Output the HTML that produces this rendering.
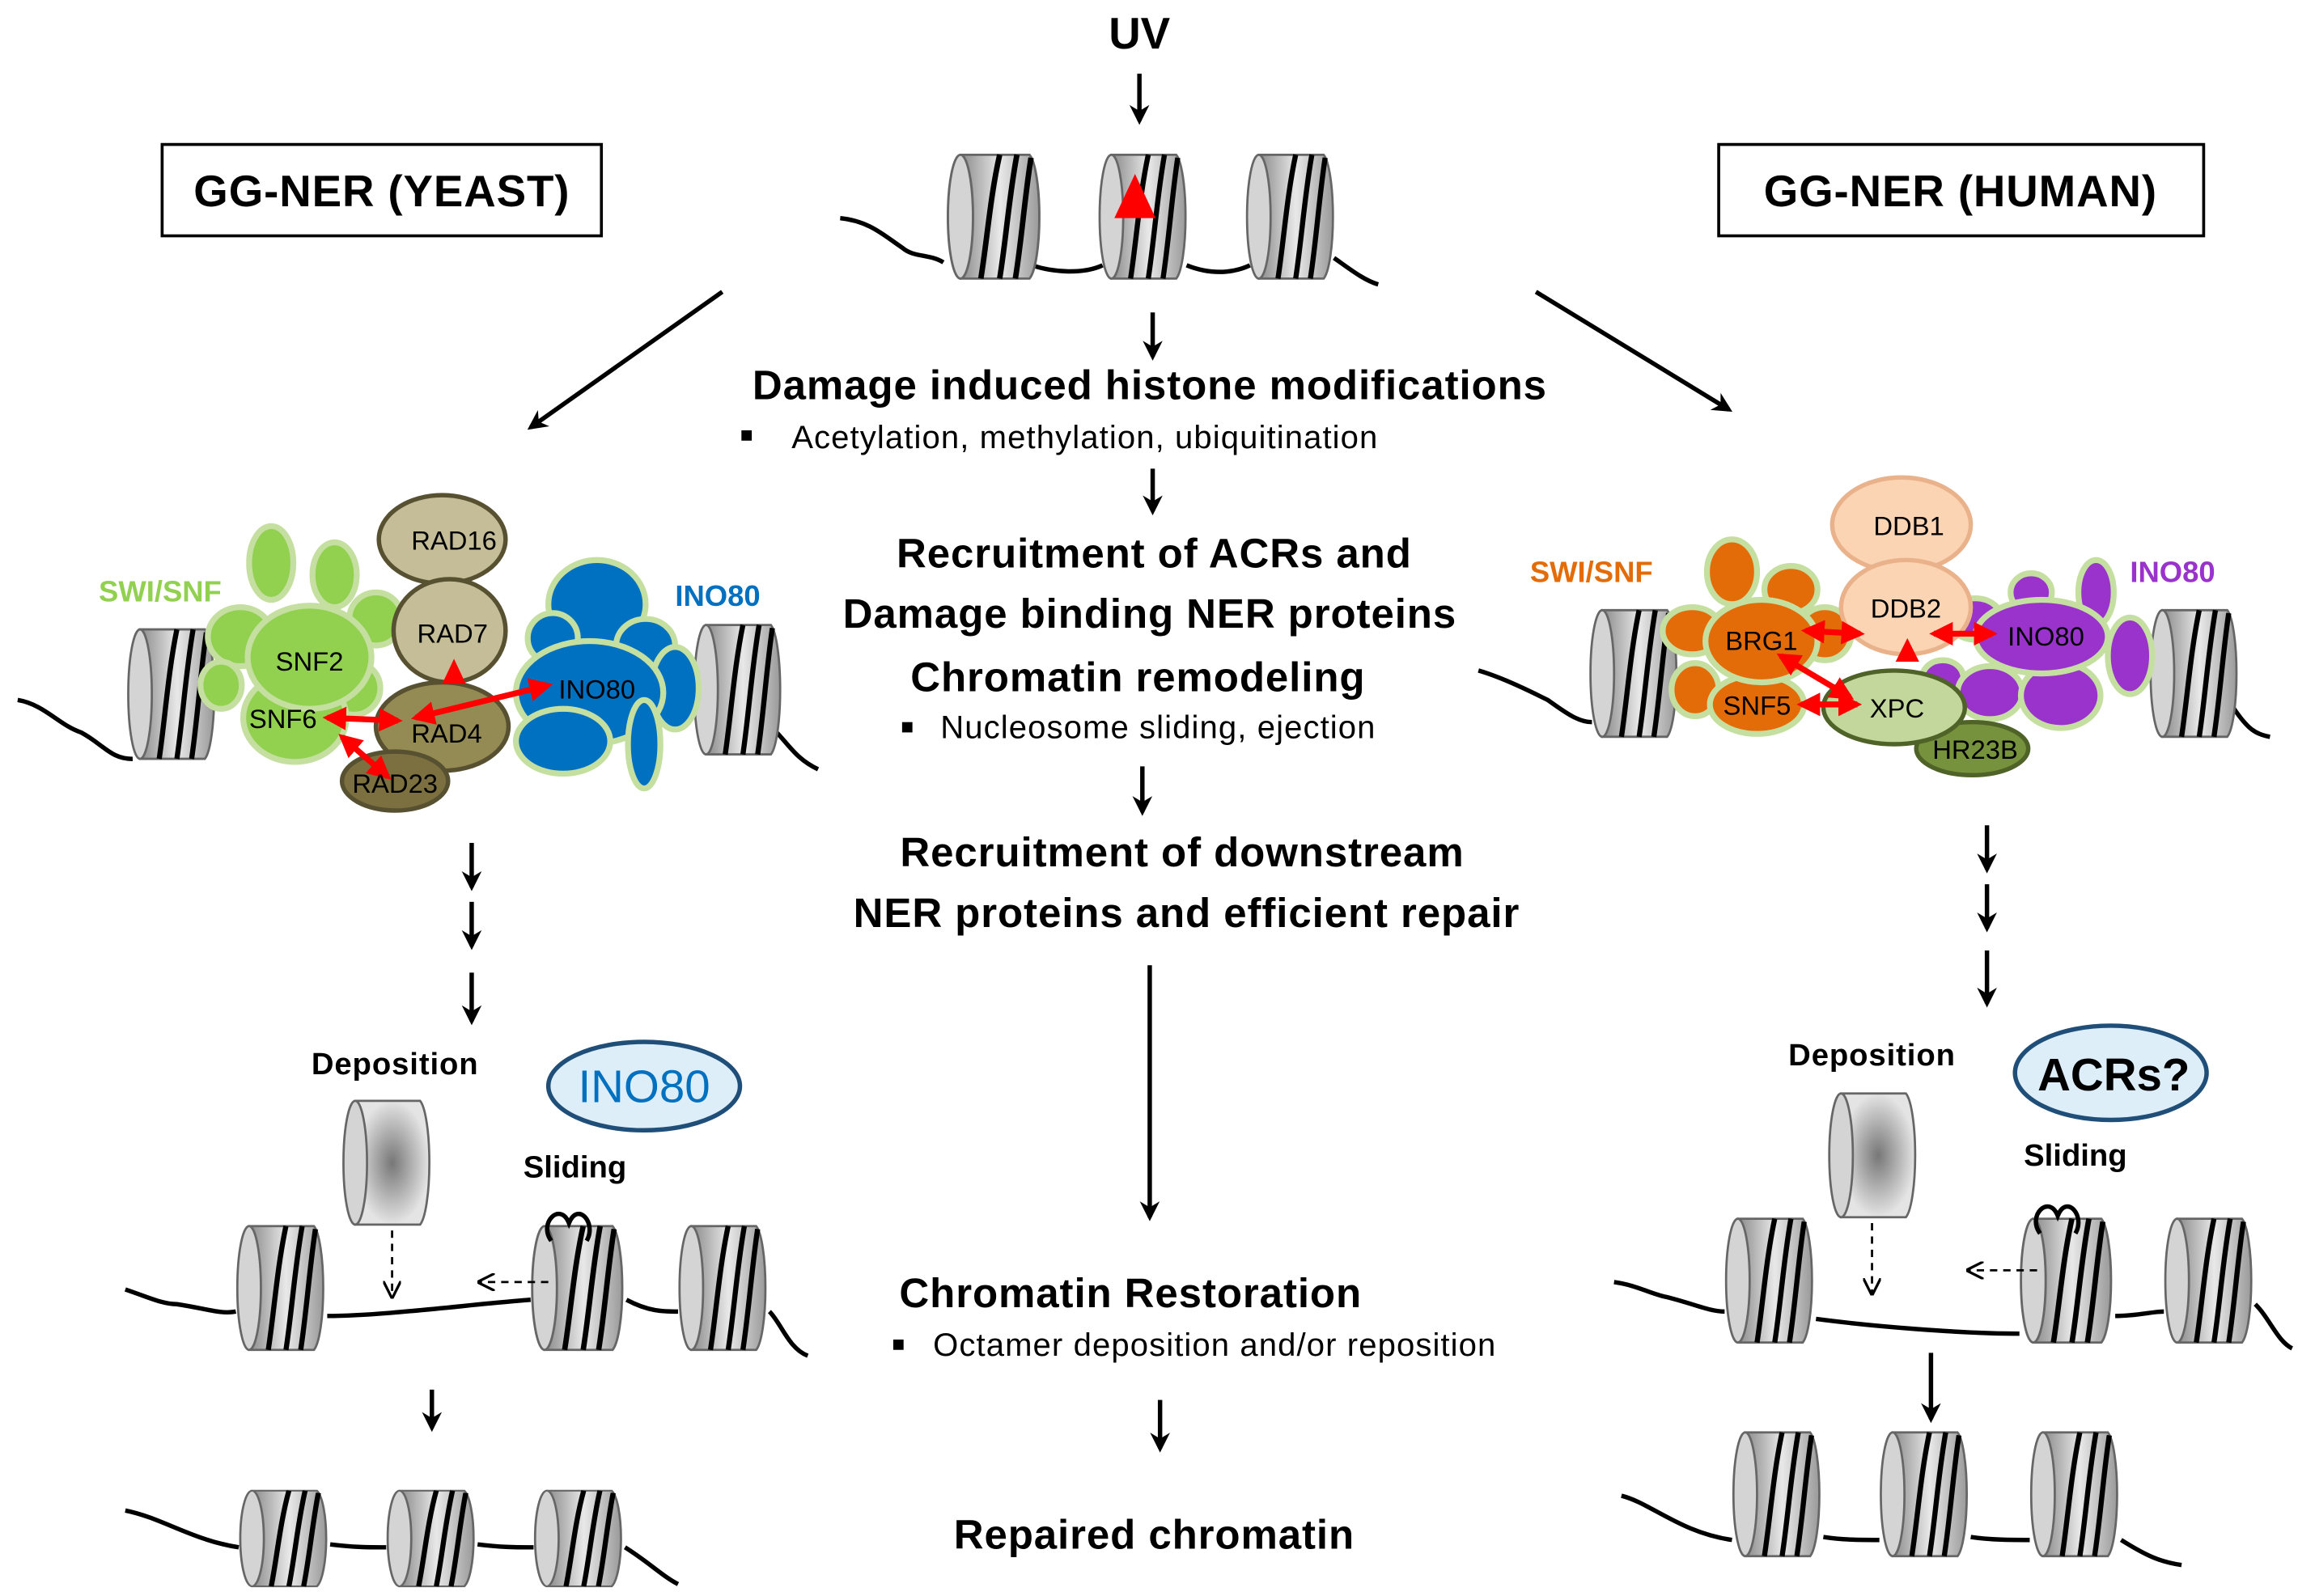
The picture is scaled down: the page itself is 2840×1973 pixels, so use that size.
<!DOCTYPE html>
<html><head><meta charset="utf-8"><style>
html,body{margin:0;padding:0;background:#fff;}
svg{display:block;}
text{font-family:"Liberation Sans",sans-serif;font-weight:bold;}
</style></head><body>
<svg width="2840" height="1973" viewBox="0 0 1559 1083" xmlns="http://www.w3.org/2000/svg">
<defs>
<linearGradient id="g" x1="0" x2="1" y1="0" y2="0">
<stop offset="0" stop-color="#8a8a8a"/><stop offset="0.5" stop-color="#e8e8e8"/><stop offset="1" stop-color="#9a9a9a"/></linearGradient>
<radialGradient id="rg"><stop offset="0" stop-color="#777"/><stop offset="1" stop-color="#e4e4e4"/></radialGradient>
<marker id="ah" viewBox="0 0 10 10" refX="8" refY="5" markerWidth="4.5" markerHeight="4.5" orient="auto"><path d="M0,0 L10,5 L0,10 L3,5 z" fill="#000"/></marker>
<marker id="ra" viewBox="0 0 10 10" refX="8" refY="5" markerWidth="4" markerHeight="4" orient="auto-start-reverse"><path d="M0,0 L10,5 L0,10 z" fill="#f00"/></marker>
<marker id="da" viewBox="0 0 10 10" refX="9" refY="5" markerWidth="8" markerHeight="8" orient="auto"><path d="M0,0 L10,5 L0,10" fill="none" stroke="#000" stroke-width="1.5"/></marker>
<symbol id="n" viewBox="0 0 62 88" preserveAspectRatio="none">
<path d="M9,2 H53 A8,43 0 0 1 53,86 H9 Z" fill="url(#g)" stroke="#666" stroke-width="1.5"/>
<ellipse cx="9" cy="44" rx="8" ry="42" fill="#d4d4d4" stroke="#666" stroke-width="1.5"/>
<path d="M22,86 C26,60 28,30 34,2 M34,86 C38,60 40,30 45,2 M44,86 C48,60 50,30 54,4" stroke="#000" stroke-width="3.5" fill="none"/>
</symbol>
<symbol id="s" viewBox="0 0 62 88" preserveAspectRatio="none">
<path d="M9,2 H53 A8,43 0 0 1 53,86 H9 Z" fill="url(#rg)" stroke="#666" stroke-width="1.5"/>
<ellipse cx="9" cy="44" rx="8" ry="42" fill="#d4d4d4" stroke="#666" stroke-width="1.5"/>
</symbol>
</defs>
<g stroke="#000" stroke-width="3" fill="none">
<path d="M570,148 C590,150 600,160 612,168 C620,175 630,172 640,178"/>
<path d="M700,180 C715,185 735,186 748,180"/>
<path d="M805,180 C820,186 835,186 848,180"/>
<path d="M905,175 C915,182 925,190 935,193"/>
</g>
<use href="#n" x="642" y="103" width="66" height="88"/>
<use href="#n" x="745" y="103" width="62" height="88"/>
<use href="#n" x="845" y="103" width="62" height="88"/>
<path d="M770,118 L784,148 L756,148 Z" fill="#f00"/>
<text x="773" y="33" font-size="30" text-anchor="middle">UV</text>
<g stroke="#000" stroke-width="3" marker-end="url(#ah)">
<line x1="773" y1="50" x2="773" y2="82"/>
<line x1="782" y1="212" x2="782" y2="242"/>
<line x1="490" y1="198" x2="360" y2="290"/>
<line x1="1042" y1="198" x2="1173" y2="278"/>
<line x1="782" y1="318" x2="782" y2="347"/>
<line x1="775" y1="520" x2="775" y2="551"/>
<line x1="780" y1="655" x2="780" y2="826"/>
<line x1="787" y1="950" x2="787" y2="983"/>
<line x1="320" y1="572" x2="320" y2="602"/>
<line x1="320" y1="612" x2="320" y2="642"/>
<line x1="320" y1="660" x2="320" y2="693"/>
<line x1="293" y1="943" x2="293" y2="969"/>
<line x1="1348" y1="560" x2="1348" y2="590"/>
<line x1="1348" y1="600" x2="1348" y2="630"/>
<line x1="1348" y1="645" x2="1348" y2="681"/>
<line x1="1310" y1="918" x2="1310" y2="963"/>
</g>
<rect x="110" y="98" width="298" height="62" fill="#fff" stroke="#000" stroke-width="2"/>
<text x="259" y="140" font-size="30" letter-spacing="0.5" text-anchor="middle">GG-NER (YEAST)</text>
<rect x="1166" y="98" width="329" height="62" fill="#fff" stroke="#000" stroke-width="2"/>
<text x="1330" y="140" font-size="30" letter-spacing="0.5" text-anchor="middle">GG-NER (HUMAN)</text>
<g text-anchor="middle" font-size="28" letter-spacing="0.5">
<text x="780" y="271">Damage induced histone modifications</text>
<text x="783" y="385">Recruitment of ACRs and</text>
<text x="780" y="426">Damage binding NER proteins</text>
<text x="772" y="469">Chromatin remodeling</text>
<text x="802" y="588">Recruitment of downstream</text>
<text x="805" y="629">NER proteins and efficient repair</text>
<text x="767" y="887">Chromatin Restoration</text>
<text x="783" y="1051">Repaired chromatin</text>
</g>
<g font-size="22" letter-spacing="0.6">
<rect x="503" y="292" width="7" height="7"/><text x="537" y="304" style="font-weight:normal">Acetylation, methylation, ubiquitination</text>
<rect x="612" y="490" width="7" height="7"/><text x="638" y="501" style="font-weight:normal">Nucleosome sliding, ejection</text>
<rect x="606" y="909" width="7" height="7"/><text x="633" y="920" style="font-weight:normal">Octamer deposition and/or reposition</text>
</g>
<!-- left complex -->
<path d="M12,475 C30,478 40,492 55,497 C70,505 75,515 90,515" stroke="#000" stroke-width="3" fill="none"/>
<path d="M525,495 C535,505 540,515 555,522" stroke="#000" stroke-width="3" fill="none"/>
<use href="#n" x="86" y="425" width="62" height="92"/>
<use href="#n" x="470" y="422" width="62" height="92"/>
<g fill="#92d050" stroke="#c4dfa0" stroke-width="4">
<ellipse cx="184" cy="382" rx="15" ry="25"/>
<ellipse cx="227" cy="390" rx="15" ry="22"/>
<ellipse cx="255" cy="420" rx="18" ry="18"/>
<ellipse cx="163" cy="432" rx="22" ry="20"/>
<ellipse cx="150" cy="465" rx="14" ry="16"/>
<ellipse cx="240" cy="467" rx="18" ry="18"/>
<ellipse cx="200" cy="487" rx="35" ry="30"/>
<ellipse cx="210" cy="446" rx="42" ry="35"/>
</g>
<g fill="#0070c0" stroke="#c4dfa0" stroke-width="4">
<ellipse cx="405" cy="410" rx="33" ry="30"/>
<ellipse cx="375" cy="433" rx="17" ry="17"/>
<ellipse cx="438" cy="438" rx="20" ry="18"/>
<ellipse cx="458" cy="467" rx="16" ry="28"/>
<ellipse cx="400" cy="470" rx="50" ry="35"/>
<ellipse cx="382" cy="503" rx="32" ry="22"/>
<ellipse cx="437" cy="505" rx="11" ry="30"/>
</g>
<g stroke="#575031" stroke-width="3">
<ellipse cx="300" cy="366" rx="43" ry="30" fill="#c4bd97"/>
<ellipse cx="305" cy="428" rx="38" ry="35" fill="#c4bd97"/>
<ellipse cx="300" cy="493" rx="45" ry="30" fill="#948a54"/>
<ellipse cx="268" cy="530" rx="36" ry="20" fill="#7c7040"/>
</g>
<path d="M308,447 L316,464 L300,464 Z" fill="#f00"/>
<g stroke="#f00" stroke-width="4" marker-start="url(#ra)" marker-end="url(#ra)">
<line x1="222" y1="487" x2="270" y2="489"/>
<line x1="282" y1="487" x2="372" y2="465"/>
<line x1="232" y1="500" x2="263" y2="527"/>
</g>
<g font-size="18" text-anchor="middle">
<text x="308" y="373" style="font-weight:normal">RAD16</text>
<text x="307" y="436" style="font-weight:normal">RAD7</text>
<text x="210" y="455" style="font-weight:normal">SNF2</text>
<text x="192" y="494" style="font-weight:normal">SNF6</text>
<text x="303" y="504" style="font-weight:normal">RAD4</text>
<text x="268" y="538" style="font-weight:normal">RAD23</text>
<text x="405" y="474" style="font-weight:normal">INO80</text>
</g>
<text x="67" y="408" font-size="20" fill="#92d050">SWI/SNF</text>
<text x="458" y="411" font-size="20" fill="#0070c0">INO80</text>
<!-- left bottom -->
<text x="268" y="729" font-size="21" letter-spacing="0.5" text-anchor="middle">Deposition</text>
<ellipse cx="437" cy="737" rx="65" ry="30" fill="#ddeef8" stroke="#1f4e79" stroke-width="3"/>
<text x="437" y="748" font-size="31" fill="#0070c0" text-anchor="middle" style="font-weight:normal">INO80</text>
<text x="390" y="799" font-size="21" text-anchor="middle">Sliding</text>
<use href="#s" x="232" y="745" width="62" height="88"/>
<path d="M85,875 C100,880 110,885 120,885 C140,888 150,892 160,890 M222,893 C260,893 320,885 360,882 M425,882 C440,890 450,890 460,890 M522,890 C530,898 535,915 548,920" stroke="#000" stroke-width="3" fill="none"/>
<use href="#n" x="160" y="830" width="62" height="88"/>
<use href="#n" x="360" y="830" width="65" height="88"/>
<use href="#n" x="460" y="830" width="62" height="88"/>
<path d="M374,842 C365,830 380,815 386,830 C392,815 405,830 398,842" stroke="#000" stroke-width="3" fill="none"/>
<line x1="266" y1="835" x2="266" y2="880" stroke="#000" stroke-width="1.5" stroke-dasharray="5,4" marker-end="url(#da)"/>
<line x1="372" y1="870" x2="325" y2="870" stroke="#000" stroke-width="1.5" stroke-dasharray="5,4" marker-end="url(#da)"/>
<path d="M85,1025 C110,1030 130,1045 162,1050 M224,1048 C240,1050 250,1050 262,1050 M324,1048 C340,1050 350,1050 362,1050 M424,1050 C440,1060 450,1070 460,1075" stroke="#000" stroke-width="3" fill="none"/>
<use href="#n" x="162" y="1010" width="62" height="68"/>
<use href="#n" x="262" y="1010" width="62" height="68"/>
<use href="#n" x="362" y="1010" width="62" height="68"/>
<!-- right complex -->
<path d="M1003,455 C1020,460 1040,470 1050,475 C1060,482 1070,490 1080,490" stroke="#000" stroke-width="3" fill="none"/>
<path d="M1515,480 C1525,495 1530,498 1540,500" stroke="#000" stroke-width="3" fill="none"/>
<use href="#n" x="1078" y="412" width="62" height="90"/>
<use href="#n" x="1458" y="412" width="62" height="90"/>
<g fill="#e36c09" stroke="#c4dfa0" stroke-width="4">
<ellipse cx="1175" cy="388" rx="17" ry="22"/>
<ellipse cx="1215" cy="400" rx="18" ry="16"/>
<ellipse cx="1148" cy="428" rx="20" ry="16"/>
<ellipse cx="1238" cy="430" rx="18" ry="18"/>
<ellipse cx="1150" cy="468" rx="16" ry="18"/>
<ellipse cx="1192" cy="478" rx="32" ry="20"/>
<ellipse cx="1195" cy="435" rx="38" ry="28"/>
</g>
<g fill="#9933cc" stroke="#c4dfa0" stroke-width="4">
<ellipse cx="1378" cy="402" rx="14" ry="13"/>
<ellipse cx="1422" cy="402" rx="12" ry="22"/>
<ellipse cx="1445" cy="445" rx="15" ry="26"/>
<ellipse cx="1340" cy="420" rx="18" ry="14"/>
<ellipse cx="1318" cy="460" rx="14" ry="12"/>
<ellipse cx="1350" cy="470" rx="22" ry="18"/>
<ellipse cx="1398" cy="472" rx="27" ry="22"/>
<ellipse cx="1385" cy="432" rx="45" ry="25"/>
</g>
<g stroke="#e9b28a" stroke-width="3" fill="#fbd4b4">
<ellipse cx="1290" cy="356" rx="47" ry="32"/>
<ellipse cx="1293" cy="412" rx="44" ry="32"/>
</g>
<ellipse cx="1338" cy="508" rx="38" ry="18" fill="#76923c" stroke="#4f6228" stroke-width="3"/>
<ellipse cx="1285" cy="480" rx="48" ry="25" fill="#c3d69b" stroke="#4f6228" stroke-width="3"/>
<path d="M1294,433 L1302,449 L1286,449 Z" fill="#f00"/>
<g stroke="#f00" stroke-width="4" marker-start="url(#ra)" marker-end="url(#ra)">
<line x1="1225" y1="428" x2="1262" y2="430"/>
<line x1="1312" y1="430" x2="1352" y2="430"/>
<line x1="1208" y1="445" x2="1255" y2="473"/>
<line x1="1222" y1="478" x2="1260" y2="478"/>
</g>
<g font-size="18" text-anchor="middle">
<text x="1295" y="363" style="font-weight:normal">DDB1</text>
<text x="1293" y="419" style="font-weight:normal">DDB2</text>
<text x="1195" y="441" style="font-weight:normal">BRG1</text>
<text x="1192" y="485" style="font-weight:normal">SNF5</text>
<text x="1287" y="487" style="font-weight:normal">XPC</text>
<text x="1340" y="515" style="font-weight:normal">HR23B</text>
<text x="1388" y="438" style="font-weight:normal">INO80</text>
</g>
<text x="1038" y="395" font-size="20" fill="#e36c09">SWI/SNF</text>
<text x="1445" y="395" font-size="20" fill="#9933cc">INO80</text>
<!-- right bottom -->
<text x="1270" y="723" font-size="21" letter-spacing="0.5" text-anchor="middle">Deposition</text>
<ellipse cx="1432" cy="728" rx="65" ry="32" fill="#ddeef8" stroke="#1f4e79" stroke-width="3"/>
<text x="1434" y="740" font-size="31" text-anchor="middle">ACRs?</text>
<text x="1408" y="791" font-size="21" text-anchor="middle">Sliding</text>
<use href="#s" x="1240" y="740" width="62" height="88"/>
<path d="M1095,870 C1110,872 1120,878 1130,880 C1150,885 1160,890 1170,890 M1232,895 C1270,900 1330,905 1370,905 M1435,893 C1450,893 1460,890 1468,890 M1530,885 C1540,895 1545,910 1555,915" stroke="#000" stroke-width="3" fill="none"/>
<use href="#n" x="1170" y="825" width="62" height="88"/>
<use href="#n" x="1370" y="825" width="65" height="88"/>
<use href="#n" x="1468" y="825" width="62" height="88"/>
<path d="M1384,837 C1375,825 1390,810 1396,825 C1402,810 1415,825 1408,837" stroke="#000" stroke-width="3" fill="none"/>
<line x1="1270" y1="830" x2="1270" y2="878" stroke="#000" stroke-width="1.5" stroke-dasharray="5,4" marker-end="url(#da)"/>
<line x1="1382" y1="862" x2="1335" y2="862" stroke="#000" stroke-width="1.5" stroke-dasharray="5,4" marker-end="url(#da)"/>
<path d="M1100,1015 C1120,1020 1140,1040 1175,1045 M1237,1043 C1250,1045 1262,1045 1275,1045 M1337,1043 C1350,1045 1365,1045 1377,1045 M1439,1045 C1455,1055 1465,1060 1480,1062" stroke="#000" stroke-width="3" fill="none"/>
<use href="#n" x="1175" y="970" width="62" height="88"/>
<use href="#n" x="1275" y="970" width="62" height="88"/>
<use href="#n" x="1377" y="970" width="62" height="88"/>
</svg>
</body></html>
